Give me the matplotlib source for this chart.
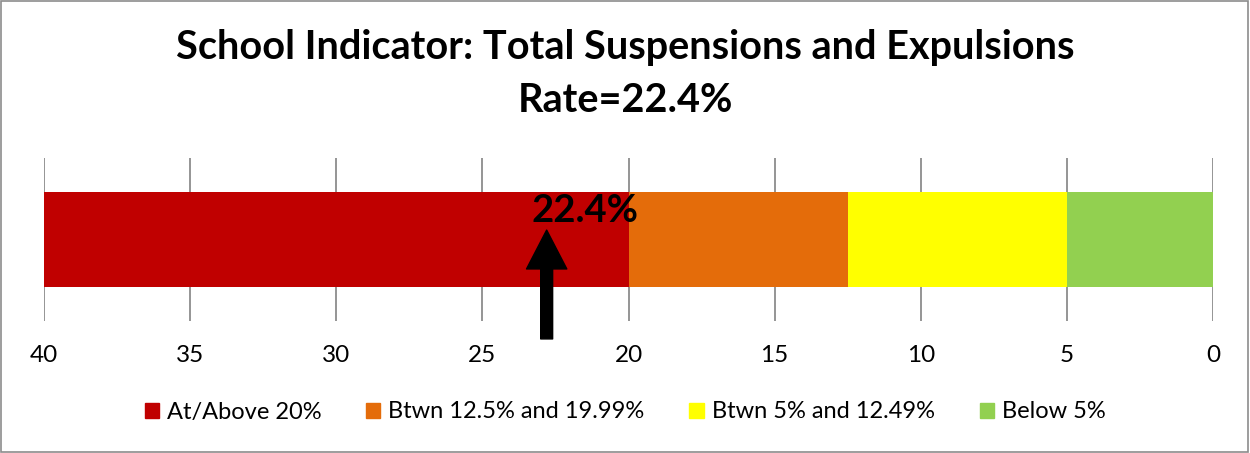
import matplotlib
matplotlib.use("Agg")
import matplotlib.pyplot as plt
from matplotlib.patches import Patch, Rectangle

plt.rcParams['font.family'] = ['Lato', 'DejaVu Sans']

# band data (percent), drawn from 0 up to 40 on a reversed axis
band_labels = ["Below 5%", "Btwn 5% and 12.49%", "Btwn 12.5% and 19.99%", "At/Above 20%"]
band_starts = [0, 5, 12.5, 20]
band_widths = [5, 7.5, 7.5, 20]
band_colors = ["#92D050", "#FFFF00", "#E46C0A", "#C00000"]
ticks = [40, 35, 30, 25, 20, 15, 10, 5, 0]

rate = 22.4
marker_x = 22.8   # where the arrow sits in the picture

fig = plt.figure(figsize=(12.5, 4.53), dpi=100)
ax = fig.add_axes([0.0352, 0.2914, 0.9352, 0.3598])

ax.barh(0.5, band_widths, left=band_starts, height=0.577, color=band_colors, zorder=2)
ax.set_xlim(40, 0)
ax.set_ylim(0, 1)
ax.set_xticks(ticks)
ax.set_xticklabels([str(t) for t in ticks], fontsize=17.5)
ax.tick_params(axis='x', length=0, pad=17)
ax.set_yticks([])
ax.grid(axis='x', color='#8c8c8c', linewidth=1.3, zorder=1)
for s in ax.spines.values():
    s.set_visible(False)

# arrow
ax.annotate('', xy=(marker_x, 0.558), xycoords=('data', 'axes fraction'),
            xytext=(marker_x, -0.11), textcoords=('data', 'axes fraction'),
            arrowprops=dict(width=8.6, headwidth=29, headlength=28, shrink=0,
                            color='black'),
            annotation_clip=False, zorder=5)
ax.annotate(f"{rate}%", xy=(rate, 0.672), xycoords=('data', 'axes fraction'),
            xytext=(19, 0), textcoords='offset points',
            ha='center', va='center', fontsize=27.5, fontweight='bold', zorder=6)

fig.text(0.5, 1 - 48 / 453, "School Indicator: Total Suspensions and Expulsions",
         ha='center', va='center', fontsize=28.5, fontweight='bold')
fig.text(0.5, 1 - 101 / 453, f"Rate={rate}%",
         ha='center', va='center', fontsize=28.5, fontweight='bold')

handles = [Patch(color=c, label=l) for c, l in zip(band_colors[::-1], band_labels[::-1])]
fig.legend(handles=handles, loc='center', bbox_to_anchor=(0.5, 1 - 412 / 453), ncol=4,
           frameon=False, fontsize=17, handlelength=0.6, handleheight=0.6,
           handletextpad=0.34, columnspacing=1.9)

fig.patches.append(Rectangle((0.001, 0.002), 0.997, 0.996, transform=fig.transFigure,
                             fill=False, edgecolor='#8c8c8c', linewidth=1.2))

fig.savefig("out.png", dpi=100)
